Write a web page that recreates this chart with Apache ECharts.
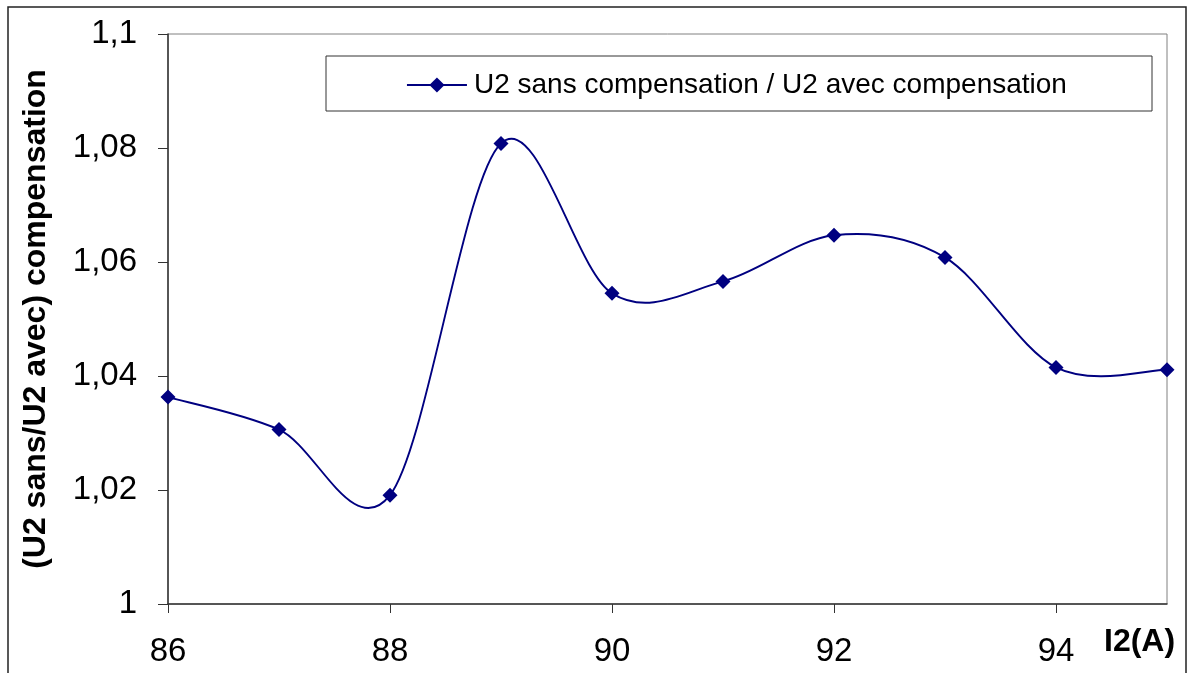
<!DOCTYPE html>
<html>
<head>
<meta charset="utf-8">
<script src="https://cdn.jsdelivr.net/npm/echarts@6/dist/echarts.min.js"></script>
<style>
html,body{margin:0;padding:0;background:#fff;}
#c{width:1198px;height:673px;}
</style>
</head>
<body>
<div id="c"></div>
<script>
// Data
const xValues = [86, 87, 88, 89, 90, 91, 92, 93, 94, 95];
const ratioValues = [1.0363, 1.0306, 1.0191, 1.0808, 1.0545, 1.0566, 1.0647, 1.0608, 1.0415, 1.0411];
const seriesName = 'U2 sans compensation / U2 avec compensation';
const xTickValues = [86, 88, 90, 92, 94];
const yAxisTitle = '(U2 sans/U2 avec) compensation';
const xAxisTitle = 'I2(A)';

const chart = echarts.init(document.getElementById('c'));
const font = 'Liberation Sans, Arial, sans-serif';
const points = xValues.map((x, i) => [x, ratioValues[i]]);
const navy = '#000080';

// Excel-style smoothed segment between point i and i+1 (Catmull-Rom Bezier in pixel space)
function renderSegment(params, api) {
  const i = params.dataIndex;
  const n = points.length;
  if (i >= n - 1) return null;
  const P = k => api.coord(points[Math.max(0, Math.min(n - 1, k))]);
  const p0 = P(i - 1), p1 = P(i), p2 = P(i + 1), p3 = P(i + 2);
  const t = 1 / 6;
  return {
    type: 'bezierCurve',
    shape: {
      x1: p1[0], y1: p1[1], x2: p2[0], y2: p2[1],
      cpx1: p1[0] + (p2[0] - p0[0]) * t, cpy1: p1[1] + (p2[1] - p0[1]) * t,
      cpx2: p2[0] - (p3[0] - p1[0]) * t, cpy2: p2[1] - (p3[1] - p1[1]) * t
    },
    style: { stroke: navy, lineWidth: 1.9, fill: 'none' },
    silent: true
  };
}

chart.setOption({
  animation: false,
  backgroundColor: '#fff',
  grid: {
    left: 168, right: 31, top: 34, bottom: 69,
    show: true, borderColor: '#808080', borderWidth: 1, backgroundColor: 'transparent'
  },
  graphic: [
    { type: 'rect', shape: { x: 8, y: 7, width: 1178, height: 700 },
      style: { fill: 'none', stroke: '#222', lineWidth: 1.5 }, z: 100, silent: true },
    { type: 'rect', shape: { x: 326, y: 56, width: 826, height: 55 },
      style: { fill: '#fff', stroke: '#333', lineWidth: 1 }, z: 1, silent: true },
    { type: 'text', left: 1104, top: 626,
      style: { text: xAxisTitle, font: 'bold 32px ' + font, fill: '#000' }, z: 10 }
  ],
  legend: {
    data: [seriesName],
    left: 401, top: 66,
    itemWidth: 60, itemHeight: 19,
    itemGap: 0,
    lineStyle: { opacity: 1, width: 1.9 },
    textStyle: { fontFamily: font, fontSize: 28, color: '#000', padding: [0, 0, 0, 2] },
    z: 5
  },
  xAxis: {
    type: 'value', min: 86, max: 95, interval: 1,
    axisLine: { show: true, onZero: false, lineStyle: { color: '#333', width: 1.5 } },
    axisTick: { show: true, length: 9, customValues: xTickValues, lineStyle: { color: '#333', width: 1 } },
    axisLabel: { customValues: xTickValues, margin: 31, fontFamily: font, fontSize: 33, color: '#000' },
    splitLine: { show: false }
  },
  yAxis: {
    type: 'value', min: 1, max: 1.1, interval: 0.02,
    axisLine: { show: true, lineStyle: { color: '#333', width: 1.5 } },
    axisTick: { show: true, length: 10, lineStyle: { color: '#333', width: 1 } },
    axisLabel: {
      margin: 31, fontFamily: font, fontSize: 33, color: '#000',
      formatter: v => String(Math.round(v * 100) / 100).replace('.', ',')
    },
    splitLine: { show: false },
    name: yAxisTitle, nameLocation: 'middle', nameGap: 116,
    nameTextStyle: { fontFamily: font, fontSize: 32, fontWeight: 'bold', color: '#000' }
  },
  series: [
    {
      name: 'curve',
      type: 'custom',
      data: points,
      encode: { x: 0, y: 1 },
      renderItem: renderSegment,
      z: 2
    },
    {
      name: seriesName,
      type: 'line',
      data: points,
      symbol: 'diamond', symbolSize: 15,
      lineStyle: { color: navy, width: 1.9, opacity: 0 },
      itemStyle: { color: navy },
      z: 3
    }
  ]
});
</script>
</body>
</html>
